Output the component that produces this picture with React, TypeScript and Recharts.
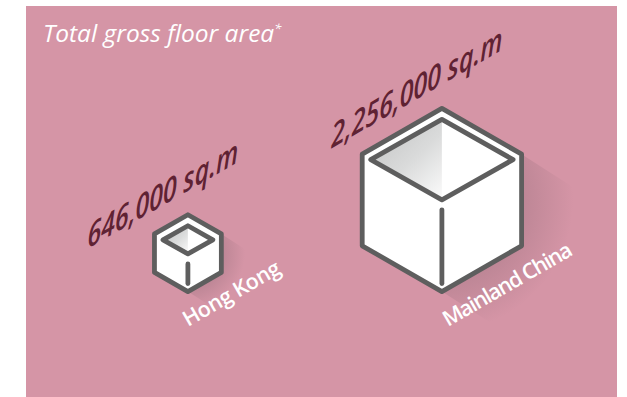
import { BarChart, Bar, XAxis, YAxis, LabelList } from 'recharts';

const categories = ['Hong Kong', 'Mainland China'];
const areas = [646000, 2256000];

const PINK = '#d595a6';
const LINE = '#5e5e5e';
const WINE = '#5f2233';

// Cube height follows area^(2/3): faces scale with floor area, not volume
const chartData = categories.map((name, i) => ({
  name,
  area: areas[i],
  edge: Math.pow(areas[i], 2 / 3),
}));
const maxEdge = Math.max(...chartData.map((d) => d.edge));

function Cube(props: any) {
  const { x, y, width, height, index } = props;
  const sw = 4.8;
  const cx = x + width / 2;
  const H = height - sw;
  const W = H * 0.435;
  const top = y + sw / 2;
  const bottom = top + H;
  const upper = top + H * 0.25;
  const lower = top + H * 0.75;

  // inner rim keeps a constant inset from the outline
  const hw = W - 8.5;
  const hh = hw * 0.565;
  const iTop = top + 11;
  const iBottom = iTop + 2 * hh;
  const iMid = iTop + hh;

  // cast shadow fades outward from the middle of the cube
  const sx = height * 0.42;
  const sy = sx * 0.64;
  const gradId = `shadow-${index}`;
  const faceId = `face-${index}`;

  return (
    <g>
      <defs>
        <radialGradient
          id={gradId}
          gradientUnits="userSpaceOnUse"
          cx={cx}
          cy={(top + bottom) / 2}
          r={height * 0.7}
        >
          <stop offset="60%" stopColor="#6f5560" stopOpacity={0.24} />
          <stop offset="100%" stopColor="#6f5560" stopOpacity={0} />
        </radialGradient>
        <linearGradient id={faceId} x1="0.25" y1="0.15" x2="0.95" y2="1">
          <stop offset="0%" stopColor="#c9caca" />
          <stop offset="45%" stopColor="#dadbdb" />
          <stop offset="100%" stopColor="#fafafa" />
        </linearGradient>
      </defs>
      <polygon
        points={`${cx + W},${upper} ${cx + W + sx},${upper + sy} ${cx + sx},${bottom + sy} ${cx},${bottom}`}
        fill={`url(#${gradId})`}
      />
      <polygon
        points={`${cx},${top} ${cx + W},${upper} ${cx + W},${lower} ${cx},${bottom} ${cx - W},${lower} ${cx - W},${upper}`}
        fill="#fff"
        stroke={LINE}
        strokeWidth={sw}
        strokeLinejoin="round"
      />
      <polygon points={`${cx},${iTop} ${cx - hw},${iMid} ${cx},${iBottom}`} fill={`url(#${faceId})`} />
      <polygon
        points={`${cx},${iTop} ${cx + hw},${iMid} ${cx},${iBottom} ${cx - hw},${iMid}`}
        fill="none"
        stroke={LINE}
        strokeWidth={sw}
        strokeLinejoin="round"
      />
      <line
        x1={cx}
        y1={iBottom + 10}
        x2={cx}
        y2={bottom - 8}
        stroke={LINE}
        strokeWidth={sw}
        strokeLinecap="round"
      />
    </g>
  );
}

function CategoryTick(props: any) {
  const { x, y, index, payload } = props;
  const nudge = index === 0 ? 0 : 6;
  return (
    <text
      transform={`translate(${x + nudge},${y + 25}) rotate(-30)`}
      fill="#fff"
      fontFamily="'Open Sans', sans-serif"
      fontSize={21.5}
      fontWeight={600}
      letterSpacing={index === 0 ? -0.5 : -1.3}
    >
      {payload.value}
    </text>
  );
}

// Sheared along the cube's top edge, squeezed a little to get the tall, narrow look
function AreaLabel(props: any) {
  const { x, y, width, value } = props;
  return (
    <text
      transform={`matrix(0.758,-0.4375,0,1,${x + width / 2 - 25},${y - 7})`}
      textAnchor="middle"
      fill={WINE}
      fontFamily="'Open Sans', sans-serif"
      fontSize={33}
      fontWeight={600}
      fontStyle="italic"
    >
      {Number(value).toLocaleString('en-US')} sq.m
    </text>
  );
}

export default function App() {
  return (
    <div style={{ position: 'absolute', left: 0, top: 0, width: 627, height: 397, background: '#fff' }}>
      <div style={{ position: 'absolute', left: 26, top: 6, width: 591, height: 391, background: PINK }} />
      <div style={{ position: 'absolute', left: 0, top: 0 }}>
        <BarChart
          width={627}
          height={397}
          data={chartData}
          margin={{ top: 106, right: 58, bottom: 73, left: 61 }}
        >
          <XAxis
            dataKey="name"
            axisLine={false}
            tickLine={false}
            height={30}
            interval={0}
            tick={<CategoryTick />}
          />
          <YAxis hide domain={[0, maxEdge]} />
          <Bar dataKey="edge" shape={<Cube />} isAnimationActive={false}>
            <LabelList dataKey="area" content={<AreaLabel />} />
          </Bar>
          <text
            x={43}
            y={42}
            fill="#fff"
            fontFamily="'Open Sans', sans-serif"
            fontSize={24.5}
            fontStyle="italic"
            fontWeight={400}
          >
            Total gross floor area
            <tspan fontSize={13} dy={-9}>*</tspan>
          </text>
        </BarChart>
      </div>
    </div>
  );
}
